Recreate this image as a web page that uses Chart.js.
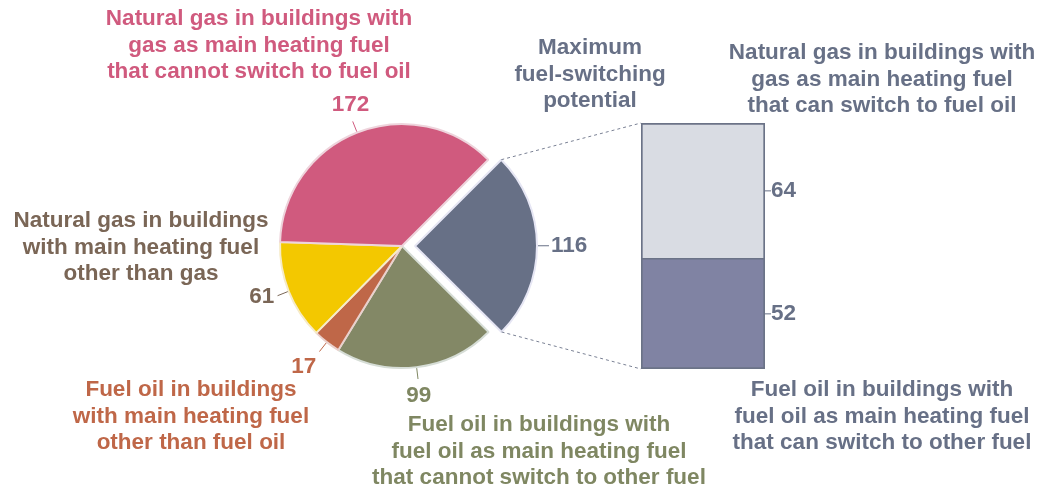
<!DOCTYPE html>
<html>
<head>
<meta charset="utf-8">
<script src="https://cdn.jsdelivr.net/npm/chart.js@4.4.0/dist/chart.umd.min.js"></script>
<style>
  html, body { margin: 0; padding: 0; background: #fff; }
  #wrap { position: relative; width: 1039px; height: 489px; }
  #wrap canvas { position: absolute; left: 0; top: 0; }
</style>
</head>
<body>
<div id="wrap">
  <canvas id="pieChart" width="1039" height="489"></canvas>
  <canvas id="barChart" width="1039" height="489"></canvas>
</div>
<script>
// Pie slices, clockwise starting from the exploded one
const pieLabels = [
    "Maximum fuel-switching potential",
    "Fuel oil in buildings with fuel oil as main heating fuel that cannot switch to other fuel",
    "Fuel oil in buildings with main heating fuel other than fuel oil",
    "Natural gas in buildings with main heating fuel other than gas",
    "Natural gas in buildings with gas as main heating fuel that cannot switch to fuel oil"
];
const pieValues = [116, 99, 17, 61, 172];
const pieColors = ["#677086", "#838866", "#BF6748", "#F3C800", "#D05A7E"];
const pieBorders = ["#E6E6F4", "#D6DDD6", "#EAD0CC", "#F6EBC8", "#EED4DC"];
const pieTextColors = ["#677086", "#7F8762", "#BF6748", "#7A6656", "#D05A7E"];

// Stacked bar breaking down the exploded slice (bottom to top)
const barCategory = ["Maximum fuel-switching potential"];
const barLabels = [
    "Fuel oil in buildings with fuel oil as main heating fuel that can switch to other fuel",
    "Natural gas in buildings with gas as main heating fuel that can switch to fuel oil"
];
const barValues = [52, 64];
const barColors = ["#8083A3", "#D9DCE3"];

const FONT = 'bold 22.5px "Liberation Sans", Arial, sans-serif';
const SLATE = "#677086";
const EXPLODE = 13; // px the first slice is pulled out (chart.js moves arcs by offset / 4)

// Category titles: lines, colour, centre x, first line y
const titles = [
    { lines: ["Natural gas in buildings with", "gas as main heating fuel", "that cannot switch to fuel oil"], color: "#D05A7E", x: 259, y: 19 },
    { lines: ["Maximum", "fuel-switching", "potential"], color: SLATE, x: 590, y: 48 },
    { lines: ["Natural gas in buildings with", "gas as main heating fuel", "that can switch to fuel oil"], color: SLATE, x: 882, y: 53 },
    { lines: ["Natural gas in buildings", "with main heating fuel", "other than gas"], color: "#7A6656", x: 141, y: 221 },
    { lines: ["Fuel oil in buildings", "with main heating fuel", "other than fuel oil"], color: "#BF6748", x: 191, y: 390 },
    { lines: ["Fuel oil in buildings with", "fuel oil as main heating fuel", "that cannot switch to other fuel"], color: "#7F8762", x: 539, y: 425 },
    { lines: ["Fuel oil in buildings with", "fuel oil as main heating fuel", "that can switch to other fuel"], color: SLATE, x: 882, y: 390 }
];
const LINE_H = 26.5;

function sliceCentre(arc, i) {
    const mid = (arc.startAngle + arc.endAngle) / 2;
    const off = i === 0 ? EXPLODE : 0;
    return { x: arc.x + Math.cos(mid) * off, y: arc.y + Math.sin(mid) * off, mid };
}

const pieLabelPlugin = {
    id: "pieLabels",
    afterDraw(chart) {
        const ctx = chart.ctx;
        const meta = chart.getDatasetMeta(0);
        ctx.save();
        ctx.font = FONT;

        meta.data.forEach((arc, i) => {
            const { x: cx, y: cy, mid } = sliceCentre(arc, i);
            const r = arc.outerRadius;
            const c = Math.cos(mid), s = Math.sin(mid);

            ctx.strokeStyle = pieTextColors[i];
            ctx.lineWidth = 1;
            ctx.beginPath();
            ctx.moveTo(cx + c * (r + 1), cy + s * (r + 1));
            ctx.lineTo(cx + c * (r + 12), cy + s * (r + 12));
            ctx.stroke();

            const d = r + 14 + 4 * Math.abs(s);
            ctx.fillStyle = pieTextColors[i];
            ctx.textAlign = c > 0.4 ? "left" : c < -0.4 ? "right" : "center";
            ctx.textBaseline = s > 0.6 ? "top" : s < -0.6 ? "bottom" : "middle";
            ctx.fillText(String(pieValues[i]), cx + c * d, cy + s * d);
        });

        ctx.textAlign = "center";
        ctx.textBaseline = "middle";
        titles.forEach(t => {
            ctx.fillStyle = t.color;
            t.lines.forEach((line, k) => ctx.fillText(line, t.x, t.y + k * LINE_H));
        });
        ctx.restore();
    }
};

const pieChart = new Chart(document.getElementById("pieChart"), {
    type: "pie",
    data: {
        labels: pieLabels,
        datasets: [{
            data: pieValues,
            backgroundColor: pieColors,
            borderColor: pieBorders,
            borderWidth: 2,
            offset: [EXPLODE * 4, 0, 0, 0, 0]
        }]
    },
    options: {
        responsive: false,
        animation: false,
        rotation: 45,
        radius: 122,
        layout: { padding: { left: 0, right: 235, top: 3, bottom: 0 } },
        plugins: { legend: { display: false }, tooltip: { enabled: false } }
    },
    plugins: [pieLabelPlugin]
});

// Connector lines and value labels for the bar
const barLabelPlugin = {
    id: "barLabels",
    afterDraw(chart) {
        const ctx = chart.ctx;
        const arc = pieChart.getDatasetMeta(0).data[0];
        const { x: ax, y: ay } = sliceCentre(arc, 0);
        const r = arc.outerRadius;

        const bottomBar = chart.getDatasetMeta(0).data[0];
        const topBar = chart.getDatasetMeta(1).data[0];
        const left = topBar.x - topBar.width / 2;
        const right = topBar.x + topBar.width / 2;

        ctx.save();
        ctx.strokeStyle = "#7A8194";
        ctx.lineWidth = 1;
        ctx.setLineDash([3, 3]);
        ctx.beginPath();
        ctx.moveTo(ax + Math.cos(arc.startAngle) * r, ay + Math.sin(arc.startAngle) * r);
        ctx.lineTo(left, topBar.y);
        ctx.moveTo(ax + Math.cos(arc.endAngle) * r, ay + Math.sin(arc.endAngle) * r);
        ctx.lineTo(left, bottomBar.base);
        ctx.stroke();
        ctx.setLineDash([]);

        ctx.font = FONT;
        ctx.fillStyle = SLATE;
        ctx.strokeStyle = SLATE;
        ctx.textAlign = "left";
        ctx.textBaseline = "middle";
        [bottomBar, topBar].forEach((bar, i) => {
            const y = (bar.y + bar.base) / 2;
            ctx.beginPath();
            ctx.moveTo(right, y);
            ctx.lineTo(right + 6, y);
            ctx.stroke();
            ctx.fillText(String(barValues[i]), right + 6, y);
        });
        ctx.restore();
    }
};

new Chart(document.getElementById("barChart"), {
    type: "bar",
    data: {
        labels: barCategory,
        datasets: barValues.map((v, i) => ({
            label: barLabels[i],
            data: [v],
            backgroundColor: barColors[i],
            borderColor: "#6B7387",
            borderWidth: i === 0
                ? { left: 2, right: 2, bottom: 2, top: 1 }
                : { left: 2, right: 2, bottom: 1, top: 2 },
            borderSkipped: false,
            barPercentage: 1,
            categoryPercentage: 1
        }))
    },
    options: {
        responsive: false,
        animation: false,
        layout: { padding: { left: 641, right: 274, top: 123, bottom: 120 } },
        scales: {
            x: { stacked: true, display: false },
            y: { stacked: true, display: false, min: 0, max: 116 }
        },
        plugins: { legend: { display: false }, tooltip: { enabled: false } }
    },
    plugins: [barLabelPlugin]
});
</script>
</body>
</html>
